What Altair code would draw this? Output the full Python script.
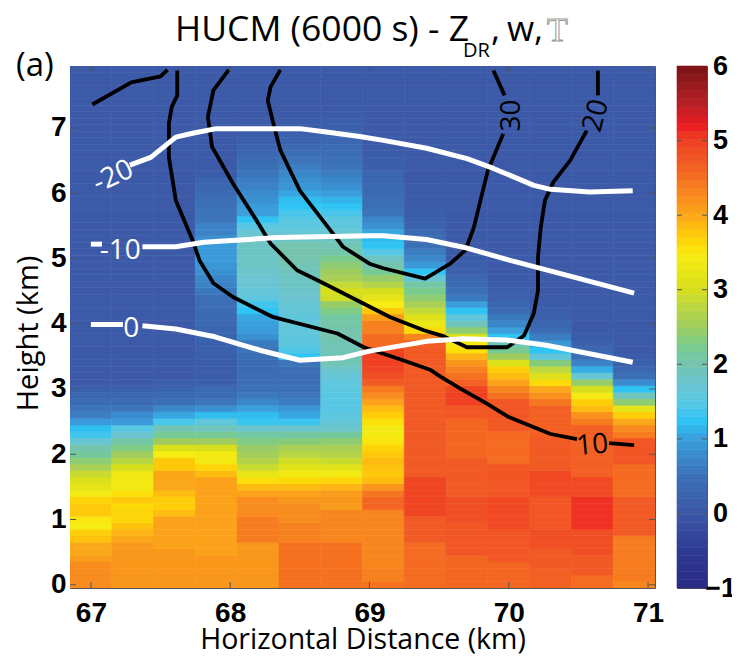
import altair as alt
import pandas as pd

# ---- Z_DR per column, from y = 0 km upward in 0.1 km rows (80 rows) ----
BG = 0.05
COL_00 = [4.25]*4+[4.1,4.0,4.0,3.8,3.7,3.45,3.5,3.75,3.75,3.65,3.4,3.2,3.05,2.9,2.6,2.4,2.15,2.0,1.7,1.35,1.2,0.95,0.65,0.55,0.4,0.3,0.2]+[BG]*49
COL_01 = [4.15]*7+[4.0,3.9,3.8,3.65,3.65,3.6,3.75,3.55,3.4,3.4,3.35,3.0,2.75,2.5,2.3,2.05,1.75,1.5,0.95,0.8,0.55,0.4,0.3,0.2]+[BG]*49
COL_02 = [4.15]*6+[4.05]*5+[3.85,3.7,3.7,3.85,4.0,4.0,4.0,3.75,3.75,3.45,3.05,2.5,2.2,1.95,1.4,1.05,0.75,0.5,0.35,0.25,0.15]+[BG]*48
COL_03 = [4.15]*5+[4.05]*12+[3.85,3.65,3.4,3.4,3.0,2.5,2.2,1.9,1.6,1.2,0.85,0.55,0.4,0.35,0.15,0.1,0.1,0.1,0.15,0.2,0.2,0.25,0.3,0.35,0.35,0.4,0.45,0.45,0.6,0.7,0.75,0.85,0.9,0.95,0.95,0.95,0.85,0.7,0.7,0.55,0.55,0.5,0.45,0.4,0.3,0.25,0.1]+[BG]*16
COL_04 = [4.15]*7+[4.4]*4+[4.25]*3+[4.05,3.85,3.55,3.25,2.9,2.7,2.55,2.45,2.3,2.1,1.8,1.3,1.2,1.0,0.75,0.6,0.5,0.45,0.45,0.4,0.4,0.45,0.55,0.6,0.85,0.95,1.0,1.05,1.25,1.35,1.55,1.65,1.7,1.75,1.8,1.85,1.85,1.85,1.85,1.75,1.7,1.5,1.25,1.0,0.95,0.85,0.8,0.7,0.65,0.55,0.5,0.4,0.3,0.25,0.2,0.1]+[BG]*10
COL_05 = [4.5]*7+[4.35]*3+[4.25]*3+[4.15,4.05,3.85,3.6,3.4,3.15,2.95,2.75,2.6,2.35,2.1,1.8,1.3,1.05,0.9,0.65,0.55,0.5,0.45,0.4,0.45,0.55,1.25,1.45,1.55,1.6,1.6,1.65,1.6,1.65,1.7,1.75,1.8,1.85,1.85,1.9,1.95,2.0,2.0,2.0,1.85,1.65,1.55,1.5,1.4,1.25,1.2,1.05,0.9,0.85,0.75,0.65,0.55,0.45,0.35,0.25,0.2,0.15,0.1]+[BG]*8
COL_06 = [4.5]*7+[4.3]*5+[4.1,4.15,4.1,3.9,3.65,3.4,3.15,2.9,2.7,2.6,2.4,2.15,1.8,1.65,1.55,1.5,1.5,1.5,1.55,1.6,1.65,1.8,1.95,1.95,1.95,1.95,2.0,2.0,2.05,2.1,2.3,2.45,2.95,3.0,2.85,2.6,2.5,2.4,2.25,2.05,1.95,1.85,1.7,1.6,1.55,1.4,1.25,1.15,1.0,0.85,0.75,0.65,0.55,0.5,0.45,0.4,0.3,0.25,0.2,0.15,0.1]+[BG]*7
COL_07 = [4.5,4.35,4.35]+[4.3]*9+[4.6,4.6,4.45,4.15,3.85,3.75,3.8,3.85,3.75,3.65,3.5,3.42,3.42,3.55,3.7,3.85,4.05,4.25,4.4,4.7,4.85,4.95,5.0,5.0,4.95,4.55,4.55,4.35,4.35,4.1,3.75,3.45,3.2,3.0,2.7,2.45,2.2,2.0,1.85,1.5,1.25,1.2,1.05,0.85,0.75,0.55,0.5,0.45,0.4,0.35,0.3,0.3,0.2,0.15,0.1]+[BG]*13
COL_08 = [4.55]*7+[4.7]*4+[4.95]*6+[4.7]*21+[4.3,3.6,3.3,3.1,2.85,2.6,2.4,2.25,2.1,1.7,1.25,0.95,0.75,0.65,0.5,0.4,0.35,0.25,0.2,0.15,0.1]+[BG]*21
COL_09 = [4.6]*5+[4.75]*5+[4.85]*4+[4.7]*6+[4.6]*6+[4.75,4.75,5.0,5.0,4.95,4.65,4.5,4.35,4.15,3.9,3.55,3.4,3.0,2.4,1.9,1.6,1.25,1.0,0.6,0.5,0.4,0.3,0.2,0.15,0.1]+[BG]*29
COL_10 = [4.6]*4+[4.75]*5+[4.9]*5+[4.75]*5+[4.55]*5+[4.7]*2+[4.75]*3+[4.5,4.3,4.05,3.85,3.7,3.1,2.5,2.2,1.9,1.25,1.0,0.75,0.6,0.4,0.3,0.2,0.15,0.1]+[BG]*33
COL_11 = [4.65]*3+[4.7]*3+[4.85]*3+[4.75]*5+[4.9]*4+[4.7]*5+[4.65]*5+[4.45,4.2,4.0,3.6,3.1,2.8,2.35,1.6,1.25,0.9,0.65,0.4,0.3,0.2,0.15,0.1]+[BG]*36
COL_12 = [4.55]*2+[4.7]*3+[4.85]*4+[5.1]*5+[4.9]*3+[4.65]*8+[4.4,4.2,3.85,3.7,3.4,3.0,2.45,1.7,1.1,0.7,0.5,0.3,0.2,0.1]+[BG]*41
COL_13 = [4.3]+[4.4]*7+[4.7]*6+[4.55]*5+[4.75]*4+[4.4,4.25,4.0,3.7,3.2,2.4,1.9,1.25,0.8,0.5,0.3,0.2,0.1]+[BG]*44
COLUMNS = [COL_00,COL_01,COL_02,COL_03,COL_04,COL_05,COL_06,COL_07,COL_08,COL_09,COL_10,COL_11,COL_12,COL_13]
X_LEFT_EDGES = [66.85,67.15,67.45,67.75,68.05,68.35,68.65,68.95,69.25,69.55,69.85,70.15,70.45,70.75]
COL_W = 0.3
ROW_H = 0.1

# ---- colormap ----
CMAP_V = [-1,-0.5,0,0.5,1,1.25,1.5,1.75,2,2.5,3,3.45,3.75,4,4.3,4.7,5,5.2,5.5,6]
CMAP_C = ["#2a2a84","#2f3a94","#3c57a6","#3c70b6","#3b9fdc","#2fc4f4","#58c7e3","#6cc5d0","#76c4ae","#a0cc5e","#d7de1c","#f7ec13","#ffc90b","#fba71a","#f7861f","#f15a24","#ef4023","#ed1c24","#b51f24","#7a1416"]
color_scale = alt.Scale(domain=CMAP_V, range=CMAP_C, clamp=True)

# ---- contours ----
W_A_X=[67.01,67.29,67.50,67.55]; W_A_Y=[7.36,7.70,7.79,7.89]
W10_X=[67.62,67.62,67.58,67.56,67.56,67.61,67.73,67.78,67.88,68.02,68.31,68.77,68.96,69.24,69.44,69.51,69.65,69.84,70.00,70.30,70.49]
W10_Y=[7.88,7.50,7.32,7.07,6.55,5.89,5.28,4.97,4.62,4.41,4.10,3.85,3.64,3.44,3.29,3.19,3.01,2.78,2.57,2.31,2.23]
W10B_X=[70.72,70.90]; W10B_Y=[2.17,2.14]
W20_X=[67.99,67.88,67.84,67.87,68.02,68.19,68.29,68.48,68.67,68.91,69.15,69.39,69.53,69.70,69.87,69.99,70.11,70.18,70.21,70.21,70.23,70.26,70.32,70.44,70.56]
W20_Y=[7.89,7.58,7.17,6.71,6.15,5.58,5.23,4.82,4.62,4.36,4.10,3.90,3.81,3.64,3.64,3.64,3.82,4.16,4.51,5.02,5.48,5.89,6.17,6.50,6.96]
W20B_X=[70.64,70.64]; W20B_Y=[7.50,7.88]
W30_X=[68.36,68.29,68.27,68.31,68.36,68.50,68.72,68.81,69.00,69.10,69.40,69.58,69.69,69.75,69.85,69.96]
W30_Y=[7.89,7.63,7.42,7.07,6.66,6.04,5.43,5.18,4.92,4.85,4.69,4.92,5.13,5.48,6.35,6.91]
W30B_X=[69.97,69.89]; W30B_Y=[7.50,7.88]

T20_X=[67.28,67.43,67.61,67.73,67.90,68.50,68.69,68.93,69.10,69.41,69.70,69.89,70.18,70.30,70.58,70.89]
T20_Y=[6.43,6.55,6.86,6.92,6.99,6.99,6.94,6.87,6.81,6.69,6.53,6.38,6.12,6.06,6.02,6.04]
T10A_X=[67.00,67.08]; T10A_Y=[5.22,5.22]
T10_X=[67.37,67.61,67.81,68.34,69.00,69.10,69.41,69.70,70.01,70.42,70.90]
T10_Y=[5.18,5.18,5.25,5.32,5.35,5.35,5.29,5.16,4.97,4.74,4.47]
T0A_X=[67.00,67.23]; T0A_Y=[3.99,3.99]
T0_X=[67.37,67.61,67.89,68.22,68.50,68.81,69.00,69.41,69.67,69.99,70.27,70.89]
T0_Y=[3.97,3.92,3.80,3.59,3.44,3.48,3.58,3.73,3.77,3.75,3.67,3.41]

BLACK_SEGS = [(W_A_X,W_A_Y),(W10_X,W10_Y),(W10B_X,W10B_Y),(W20_X,W20_Y),(W20B_X,W20B_Y),(W30_X,W30_Y),(W30B_X,W30B_Y)]
WHITE_SEGS = [(T20_X,T20_Y),(T10A_X,T10A_Y),(T10_X,T10_Y),(T0A_X,T0A_Y),(T0_X,T0_Y)]

# text, x, y, angle, colour
CONTOUR_LABELS = [("-20",67.16,6.25,335,"white"),("-10",67.21,5.12,0,"white"),("0",67.29,3.92,0,"white"),
                  ("10",70.60,2.13,355,"black"),("30",70.02,7.19,270,"black"),("20",70.63,7.19,285,"black")]

X_TICKS=[67,68,69,70,71]
Y_TICKS=[0,1,2,3,4,5,6,7]
CB_TICKS=[-1,0,1,2,3,4,5,6]
N_LEVELS=64

W,H=585,522
FRAME="#555555"
BOLD="Liberation Sans"
SANS="Open Sans"

rows=[]
for x0,col in zip(X_LEFT_EDGES,COLUMNS):
    for i,v in enumerate(col):
        rows.append(dict(x=x0,x2=x0+COL_W,y=i*ROW_H-ROW_H/2,y2=i*ROW_H+ROW_H/2,v=v))
cells=pd.DataFrame(rows)

xs=alt.Scale(domain=[66.85,71.05],nice=False,zero=False)
ys=alt.Scale(domain=[-0.05,7.95],nice=False,zero=False)

heat=alt.Chart(cells).mark_rect(strokeWidth=0.6,clip=True).encode(
    x=alt.X("x:Q",scale=xs,axis=alt.Axis(values=X_TICKS,title="Horizontal Distance (km)",grid=False,ticks=False,domain=False,
        labelFont=BOLD,labelFontWeight="bold",labelFontSize=28,labelColor="black",labelPadding=11,format="d",labelOverlap=False,
        titleFont=SANS,titleFontWeight="normal",titleFontSize=28.5,titleColor="black",titlePadding=-2,labelFlush=False)),
    x2="x2:Q",
    y=alt.Y("y:Q",scale=ys,axis=alt.Axis(values=Y_TICKS,title="Height (km)",grid=False,ticks=False,domain=False,
        labelFont=BOLD,labelFontWeight="bold",labelFontSize=28,labelColor="black",labelPadding=4,format="d",labelOverlap=False,
        titleFont=SANS,titleFontWeight="normal",titleFontSize=29,titleColor="black",titleX=-42,titleY=267,titleBaseline="middle")),
    y2="y2:Q",
    fill=alt.Fill("v:Q",scale=color_scale,legend=None),
    stroke=alt.Stroke("v:Q",scale=color_scale,legend=None),
)

def seg_layer(segs,color,width):
    recs=[]
    for s,(xx,yy) in enumerate(segs):
        for k,(a,b) in enumerate(zip(xx,yy)):
            recs.append(dict(s=s,k=k,x=a,y=b))
    return alt.Chart(pd.DataFrame(recs)).mark_line(color=color,strokeWidth=width,clip=True,strokeJoin="round").encode(
        x=alt.X("x:Q",scale=xs),y=alt.Y("y:Q",scale=ys),detail="s:N",order="k:Q")

layers=[heat,seg_layer(BLACK_SEGS,"black",3.8),seg_layer(WHITE_SEGS,"white",5)]

for txt,x,y,ang,c in CONTOUR_LABELS:
    layers.append(alt.Chart(pd.DataFrame([dict(t=txt,x=x,y=y)])).mark_text(font=SANS,fontSize=28,angle=ang,color=c,align="center",baseline="middle").encode(
        x=alt.X("x:Q",scale=xs),y=alt.Y("y:Q",scale=ys),text="t:N"))

# inward ticks
xt=pd.DataFrame({"x":X_TICKS})
yt=pd.DataFrame({"y":Y_TICKS})
layers+= [
 alt.Chart(xt).mark_rule(color=FRAME,strokeWidth=1).encode(x=alt.X("x:Q",scale=xs),y=alt.value(H),y2=alt.value(H-6)),
 alt.Chart(xt).mark_rule(color=FRAME,strokeWidth=1).encode(x=alt.X("x:Q",scale=xs),y=alt.value(0),y2=alt.value(6)),
 alt.Chart(yt).mark_rule(color=FRAME,strokeWidth=1).encode(y=alt.Y("y:Q",scale=ys),x=alt.value(0),x2=alt.value(6)),
 alt.Chart(yt).mark_rule(color=FRAME,strokeWidth=1).encode(y=alt.Y("y:Q",scale=ys),x=alt.value(W),x2=alt.value(W-6)),
]

# title pieces and panel tag
def label(txt,px,py,size,font=SANS,**kw):
    return alt.Chart(pd.DataFrame([dict(t=txt)])).mark_text(font=font,fontSize=size,align="left",baseline="alphabetic",**kw).encode(
        x=alt.value(px),y=alt.value(py),text="t:N")
layers+=[
 label("HUCM (6000 s) - Z",105,-25,35.5,color="black"),
 label("DR",393,-9,20,color="black"),
 label(",",421,-25,35,color="black"),
 label("w,",437,-25,35,color="black"),
 label("T",477,-25,34,font="Liberation Sans Narrow",color="white",stroke="#9a9a9a",strokeWidth=1),
 label("(a)",-54,10,33,color="black"),
]

main=alt.layer(*layers).properties(width=W,height=H)

# colour bar
lo=[-1+7*k/N_LEVELS for k in range(N_LEVELS)]
bar=pd.DataFrame({"lo":lo,"hi":[a+7/N_LEVELS for a in lo],"mid":[a+3.5/N_LEVELS for a in lo]})
cby=alt.Scale(domain=[-1,6],nice=False,zero=False)
cb_cells=alt.Chart(bar).mark_rect(strokeWidth=0.6).encode(
    x=alt.value(0),x2=alt.value(30),
    y=alt.Y("lo:Q",scale=cby,axis=alt.Axis(orient="right",values=CB_TICKS,title=None,grid=False,ticks=False,domain=False,
        labelFont=BOLD,labelFontWeight="bold",labelFontSize=27,labelColor="black",labelPadding=13,labelAlign="center",format="d",labelOverlap=False,labelFlush=False)),
    y2="hi:Q",
    fill=alt.Fill("mid:Q",scale=color_scale,legend=None),
    stroke=alt.Stroke("mid:Q",scale=color_scale,legend=None),
)
cbt=pd.DataFrame({"y":CB_TICKS[1:-1]})
cb=alt.layer(cb_cells,
    alt.Chart(cbt).mark_rule(color=FRAME).encode(y=alt.Y("y:Q",scale=cby),x=alt.value(0),x2=alt.value(5)),
    alt.Chart(cbt).mark_rule(color=FRAME).encode(y=alt.Y("y:Q",scale=cby),x=alt.value(30),x2=alt.value(25)),
).properties(width=30,height=H)

chart=alt.hconcat(main,cb,spacing=11).resolve_scale(fill="independent",stroke="independent").properties(
    autosize=alt.AutoSizeParams(type="none"),
    padding={"left":62,"top":58,"right":662,"bottom":588}
).configure_view(stroke=FRAME,strokeWidth=1)

chart.save("out.html",embed_options={"renderer":"svg","actions":False})
